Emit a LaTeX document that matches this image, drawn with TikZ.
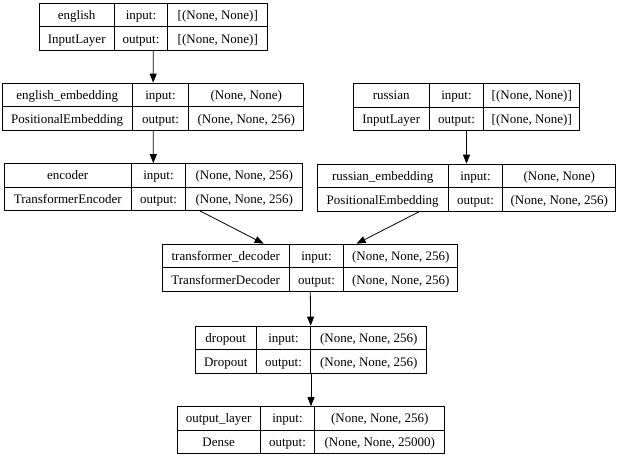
\documentclass[tikz,border=0pt]{standalone}
\usepackage{fontspec}
\setmainfont{Liberation Serif}
\usepackage{array}
\usetikzlibrary{arrows.meta}

\newcolumntype{C}[1]{>{\centering\arraybackslash}p{#1pt}}
\setlength{\tabcolsep}{0pt}
\setlength{\arrayrulewidth}{0.8pt}
\renewcommand{\arraystretch}{1.44}

% one keras layer: name, position, three cell widths, layer name, class, input, output
\newcommand{\kerasbox}[9]{%
	\node[layer] (#1) at #2 {\begin{tabular}{C{#3}|C{#4}|C{#5}}
		#6 & input: & #8 \\ \hline
		#7 & output: & #9
	\end{tabular}};}

\begin{document}
\begin{tikzpicture}[x=1pt,y=-1pt,
	layer/.style={draw,line width=0.8pt,inner sep=0pt,font=\fontsize{13}{16}\selectfont},
	flow/.style={draw,line width=0.8pt,-{Triangle[length=9pt,width=7pt]}}]
	\useasboundingbox (0,0) rectangle (622,457);

	\kerasbox{english}{(153.5,26.5)}{75}{52}{100}{english}{InputLayer}{[(None, None)]}{[(None, None)]}
	\kerasbox{english_emb}{(153,106.5)}{130}{55}{115}{english\_embedding}{PositionalEmbedding}{(None, None)}{(None, None, 256)}
	\kerasbox{russian}{(466.5,107)}{76}{53}{96}{russian}{InputLayer}{[(None, None)]}{[(None, None)]}

	\kerasbox{encoder}{(153.5,187)}{127}{53}{117}{encoder}{TransformerEncoder}{(None, None, 256)}{(None, None, 256)}
	\kerasbox{russian_emb}{(466.5,187.5)}{131}{53}{113}{russian\_embedding}{PositionalEmbedding}{(None, None)}{(None, None, 256)}

	\kerasbox{decoder}{(310,267.5)}{127}{53}{114}{transformer\_decoder}{TransformerDecoder}{(None, None, 256)}{(None, None, 256)}
	\kerasbox{dropout}{(311,349.5)}{61}{53}{116}{dropout}{Dropout}{(None, None, 256)}{(None, None, 256)}
	\kerasbox{output}{(311,430)}{83}{53}{130}{output\_layer}{Dense}{(None, None, 256)}{(None, None, 25000)}

	\path[flow] (english) to (english_emb);
	\path[flow] (english_emb) to (encoder);
	\path[flow] (russian) to (russian_emb);
	\path[flow] (encoder) to (decoder);
	\path[flow] (russian_emb) to (decoder);
	\path[flow] (decoder) to (dropout);
	\path[flow] (dropout) to (output);

\end{tikzpicture}
\end{document}
